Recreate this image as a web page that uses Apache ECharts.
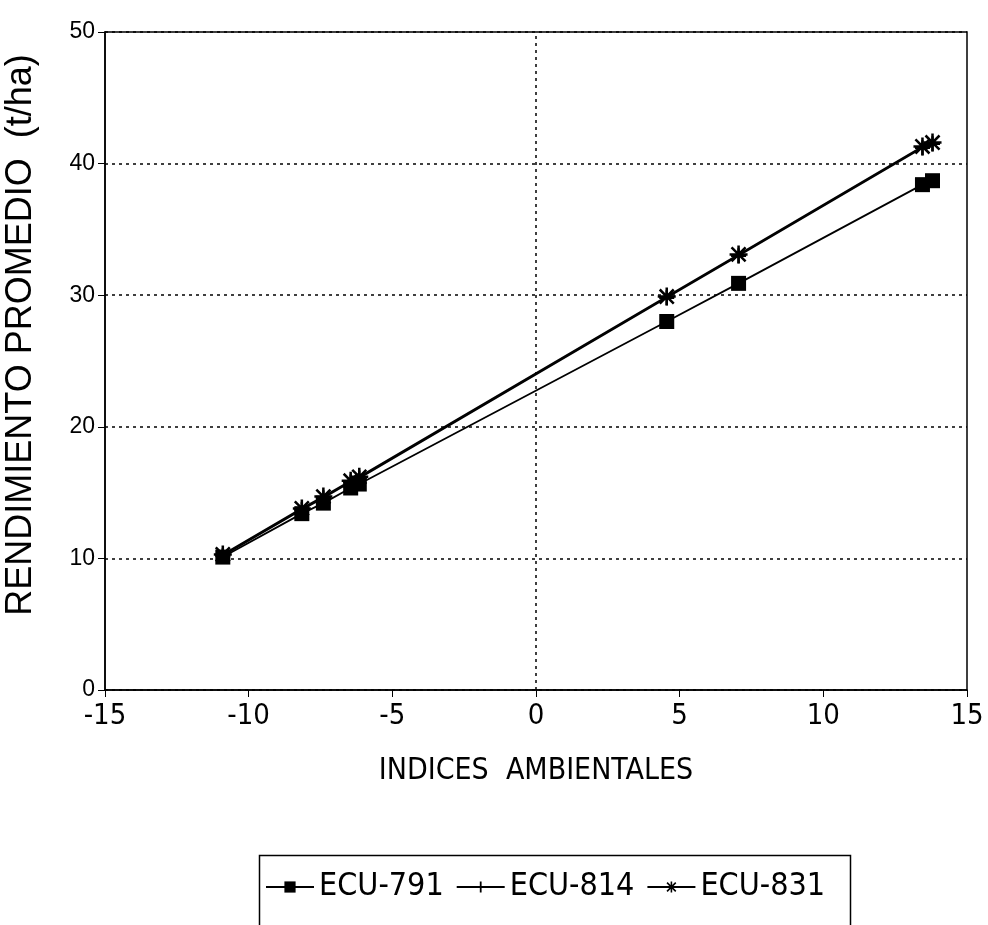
<!DOCTYPE html>
<html>
<head>
<meta charset="utf-8">
<script src="https://cdn.jsdelivr.net/npm/echarts@6/dist/echarts.min.js"></script>
<style>html,body{margin:0;padding:0;background:#fff;}#c{width:988px;height:925px;}</style>
</head>
<body>
<div id="c"></div>
<script>
var xValues = [-10.9, -8.15, -7.4, -6.45, -6.15, 4.55, 7.05, 13.45, 13.8];
var ecu791 = [10.1, 13.4, 14.2, 15.35, 15.65, 28.0, 30.9, 38.4, 38.7];
var ecu814 = [10.2, 13.7, 14.6, 15.8, 16.1, 29.8, 33.0, 41.2, 41.5];
var ecu831 = [10.3, 13.8, 14.7, 15.9, 16.2, 29.9, 33.1, 41.3, 41.6];
var seriesNames = ['ECU-791', 'ECU-814', 'ECU-831'];
var yTicks = [0, 10, 20, 30, 40, 50];
var xTicks = [-15, -10, -5, 0, 5, 10, 15];

function pairs(ys){ return xValues.map(function(x,i){ return [x, ys[i]]; }); }

var plusPath = 'path://M0,4.2 L10,4.2 L10,5.8 L0,5.8 Z M4.2,0 L5.8,0 L5.8,10 L4.2,10 Z';
var starPath = 'path://M4.3,0 L5.7,0 L5.7,10 L4.3,10 Z M0,4.3 L10,4.3 L10,5.7 L0,5.7 Z M0.6,1.6 L1.6,0.6 L9.4,8.4 L8.4,9.4 Z M8.4,0.6 L9.4,1.6 L1.6,9.4 L0.6,8.4 Z';

var chart = echarts.init(document.getElementById('c'), null, {renderer:'canvas'});
var axisFont = '"Liberation Sans", Arial, sans-serif';
var narrow = '"DejaVu Sans Condensed", "Liberation Sans Narrow", "Liberation Sans", sans-serif';

function mkSeries(name, ys, symbol, size){
  return {
    name: name, type: 'line', data: pairs(ys),
    symbol: symbol, symbolSize: size,
    lineStyle: {color: '#000', width: 1.8},
    itemStyle: {color: '#000', borderColor: '#000', borderWidth: 0},
    z: 3, animation: false
  };
}

var series = [
  mkSeries(seriesNames[0], ecu791, 'rect', 15),
  mkSeries(seriesNames[1], ecu814, plusPath, 15),
  mkSeries(seriesNames[2], ecu831, starPath, 18)
];
var dotted = {color: '#000', type: [3, 4], width: 1.5};
series[0].markLine = {
  silent: true, symbol: 'none', label: {show: false},
  lineStyle: dotted,
  data: [{xAxis: 0, lineStyle: dotted}], animation: false
};

chart.setOption({
  backgroundColor: '#fff',
  animation: false,
  grid: {left: 105, right: 21, top: 32, bottom: 235, show: true, borderColor: '#000', borderWidth: 1.5, containLabel: false, outerBoundsMode: 'none'},
  xAxis: {
    type: 'value', min: xTicks[0], max: xTicks[xTicks.length-1], interval: 5,
    name: 'INDICES  AMBIENTALES', nameLocation: 'middle', nameGap: 66,
    nameTextStyle: {color: '#000', fontSize: 30, fontFamily: narrow},
    axisLine: {show: true, onZero: false, lineStyle: {color: '#000', width: 1.5}},
    axisTick: {show: true, inside: false, length: 7, lineStyle: {color: '#000'}},
    axisLabel: {color: '#000', fontSize: 29, fontFamily: narrow, margin: 12},
    splitLine: {show: false}
  },
  yAxis: {
    type: 'value', min: yTicks[0], max: yTicks[yTicks.length-1], interval: 10,
    name: 'RENDIMIENTO PROMEDIO  (t/ha)', nameLocation: 'middle', nameGap: 66, nameRotate: 90,
    nameTextStyle: {color: '#000', fontSize: 36, fontFamily: axisFont, padding: [0, 0, 0, 52]},
    axisLine: {show: true, onZero: false, lineStyle: {color: '#000', width: 1.5}},
    axisTick: {show: true, inside: false, length: 7, lineStyle: {color: '#000'}},
    axisLabel: {color: '#000', fontSize: 23, fontFamily: axisFont, margin: 10},
    splitLine: {show: true, lineStyle: dotted}
  },
  legend: {
    show: true, left: 260, top: 866, orient: 'horizontal',
    itemWidth: 48, itemHeight: 14, itemGap: 12,
    textStyle: {color: '#000', fontSize: 32, fontFamily: narrow},
    data: seriesNames
  },
  graphic: [{
    type: 'rect', left: 257, top: 853,
    shape: {width: 591, height: 120},
    style: {fill: 'none', stroke: '#000', lineWidth: 1.5}, silent: true, z: 0
  }],
  series: series
});
</script>
</body>
</html>
